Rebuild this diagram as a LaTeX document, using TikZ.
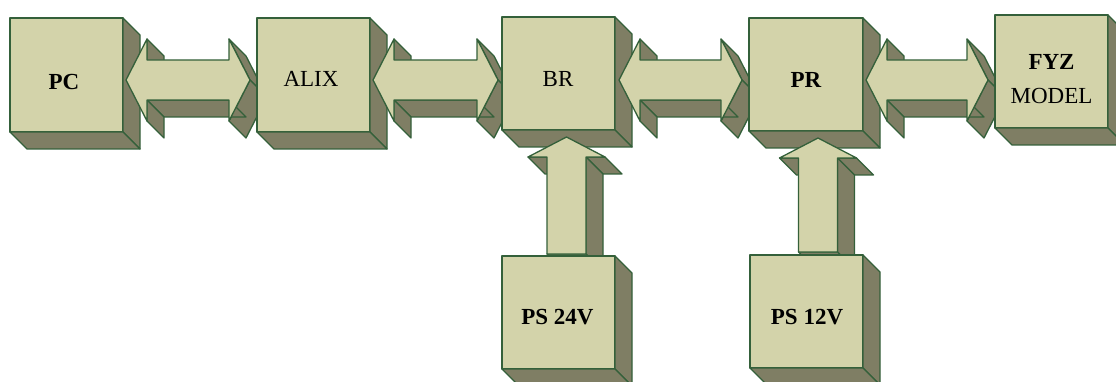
\documentclass[tikz,border=0pt]{standalone}
\usepackage{fontspec}
\setmainfont{Liberation Serif}
\usetikzlibrary{calc}

\definecolor{facelight}{RGB}{211,211,170}
\definecolor{faceshade}{RGB}{127,126,100}
\definecolor{edgegreen}{RGB}{52,96,58}

% depth of the oblique extrusion (right and down)
\newcommand\extrude{17}

% one extruded side face behind the edge from #1 to #2
\newcommand\sideface[2]{%
  \filldraw[shadeface] (#1) -- (#2) -- ($(#2)+(\extrude,\extrude)$) -- ($(#1)+(\extrude,\extrude)$) -- cycle;}

% right and bottom faces of a block node
\newcommand\blockdepth[1]{%
  \sideface{#1.north east}{#1.south east}%
  \sideface{#1.south east}{#1.south west}}

% horizontal double-headed solid arrow between two tip coordinates
\newcommand\twowayarrow[2]{%
  \path (#1) coordinate (t1)
        ($(#1)+(21,-41)$) coordinate (t2)
        ($(#1)+(21,-20)$) coordinate (t3)
        ($(#2)+(-21,-20)$) coordinate (t4)
        ($(#2)+(-21,-41)$) coordinate (t5)
        (#2) coordinate (t6)
        ($(#2)+(-21,41)$) coordinate (t7)
        ($(#2)+(-21,20)$) coordinate (t8)
        ($(#1)+(21,20)$) coordinate (t9)
        ($(#1)+(21,41)$) coordinate (t10);
  \sideface{t2}{t3}\sideface{t5}{t6}\sideface{t6}{t7}\sideface{t8}{t9}\sideface{t9}{t10}
  \filldraw[frontface] (t1) -- (t2) -- (t3) -- (t4) -- (t5) -- (t6) -- (t7)
    -- (t8) -- (t9) -- (t10) -- cycle;}

% upward solid arrow from a base coordinate to a tip coordinate
\newcommand\upwardarrow[2]{% #1 tip, #2 base
  \path (#1) coordinate (u1)
        ($(#1)+(38.5,20)$) coordinate (u2)
        ($(#1)+(19.5,20)$) coordinate (u3)
        ($(#2)+(19.5,0)$) coordinate (u4)
        ($(#2)+(-19.5,0)$) coordinate (u5)
        ($(#1)+(-19.5,20)$) coordinate (u6)
        ($(#1)+(-38.5,20)$) coordinate (u7);
  \sideface{u2}{u3}\sideface{u3}{u4}\sideface{u4}{u5}\sideface{u6}{u7}
  \filldraw[frontface] (u1) -- (u2) -- (u3) -- (u4) -- (u5) -- (u6) -- (u7) -- cycle;}

\tikzset{
  frontface/.style={fill=facelight, draw=edgegreen, line width=1.3pt, line join=round},
  shadeface/.style={fill=faceshade, draw=edgegreen, line width=1.3pt, line join=round},
  blockbox/.style={frontface, rectangle, inner sep=0pt, outer sep=0pt,
    minimum width=113pt, minimum height=113pt},
  boxlabel/.style={font=\fontsize{23}{34}\selectfont, inner sep=0pt, align=center},
  boldlabel/.style={boxlabel, font=\fontsize{23}{34}\selectfont\bfseries},
}

\begin{document}
\begin{tikzpicture}[x=1pt, y=-1pt]
\useasboundingbox (0,0) rectangle (1116,382);
\clip (0,0) rectangle (1116,382);

% PC
\node[blockbox, minimum height=114pt] (pc) at (66.5,75) {};
\blockdepth{pc}
\node[boldlabel] (pc-label) at ($(pc)+(-2.5,7)$) {PC};

% PC <-> ALIX
\coordinate (pc-alix-l) at (126,80);
\coordinate (pc-alix-r) at (250,80);
\twowayarrow{pc-alix-l}{pc-alix-r}

% ALIX
\node[blockbox, minimum height=114pt] (alix) at (313.5,75) {};
\blockdepth{alix}
\node[boxlabel] (alix-label) at ($(alix)+(-2.5,4)$) {ALIX};

% ALIX <-> BR
\coordinate (alix-br-l) at (373,80);
\coordinate (alix-br-r) at (498,80);
\twowayarrow{alix-br-l}{alix-br-r}

% BR
\node[blockbox] (br) at (558.5,73.5) {};
\blockdepth{br}
\node[boxlabel] (br-label) at ($(br)+(-0.5,5.5)$) {BR};

% BR <-> PR
\coordinate (br-pr-l) at (619,80);
\coordinate (br-pr-r) at (742,80);
\twowayarrow{br-pr-l}{br-pr-r}

% PR
\node[blockbox, minimum width=114pt] (pr) at (806,74.5) {};
\blockdepth{pr}
\node[boldlabel] (pr-label) at ($(pr)+(0,5.5)$) {PR};

% PR <-> FYZ MODEL
\coordinate (pr-fyz-l) at (866,80);
\coordinate (pr-fyz-r) at (988,80);
\twowayarrow{pr-fyz-l}{pr-fyz-r}

% FYZ MODEL
\node[blockbox] (fyz) at (1051.5,71.5) {};
\blockdepth{fyz}
\node[boxlabel] (fyz-label) at ($(fyz)+(0,7.5)$) {\bfseries FYZ\\MODEL};

% PS 24V -> BR
\coordinate (ps24-tip) at (566.5,137);
\coordinate (ps24-base) at (566.5,254);
\upwardarrow{ps24-tip}{ps24-base}
\node[blockbox] (ps24) at (558.5,312.5) {};
\blockdepth{ps24}
\node[boldlabel] (ps24-label) at ($(ps24)+(-1,4.5)$) {PS 24V};

% PS 12V -> PR
\coordinate (ps12-tip) at (818,138);
\coordinate (ps12-base) at (818,252);
\upwardarrow{ps12-tip}{ps12-base}
\node[blockbox] (ps12) at (806.5,311.5) {};
\blockdepth{ps12}
\node[boldlabel] (ps12-label) at ($(ps12)+(0.5,5.5)$) {PS 12V};

\end{tikzpicture}
\end{document}
